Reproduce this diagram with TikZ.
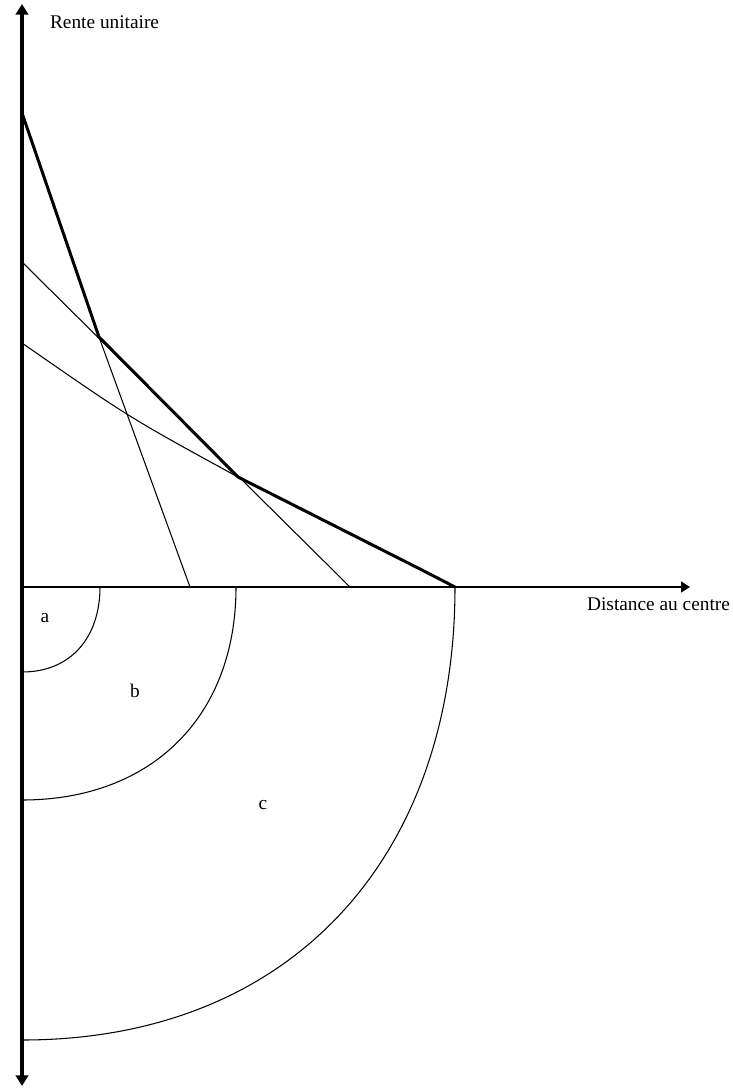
\documentclass[tikz,border=0pt]{standalone}
\usepackage{fontspec}
\setmainfont{Liberation Serif}
\usetikzlibrary{arrows.meta}

\begin{document}
\begin{tikzpicture}[
    x=0.02cm, y=-0.02cm,
    vaxis/.style={line width=2.4pt, black, {Triangle[length=6pt,width=7pt]}-{Triangle[length=6pt,width=7pt]}},
    haxis/.style={line width=1.1pt, black, -{Triangle[length=5pt,width=6pt]}},
    bidline/.style={line width=0.6pt, black},
    envelope/.style={line width=1.7pt, black, line join=round},
    zone/.style={line width=0.6pt, black, out=-90, in=0, looseness=1.1},
    labelstyle/.style={font=\fontsize{11}{13}\selectfont, inner sep=1pt}
]
\useasboundingbox (0,0) rectangle (733,1090);

% === Axes ===
\coordinate (o) at (22,587);
\coordinate (ytop) at (22,4);
\coordinate (ybot) at (22,1086);
\coordinate (xend) at (690,587);
\draw[vaxis] (ybot) -- (ytop);
\draw[haxis] (o) -- (xend);

\node[labelstyle, anchor=west] (rente) at (48,22) {Rente unitaire};
\node[labelstyle, anchor=east] (dist) at (732,604) {Distance au centre};

% === Bid rent lines ===
\coordinate (a0) at (22,113);
\coordinate (a1) at (190,587);
\coordinate (b0) at (22,262);
\coordinate (b1) at (350,587);
\coordinate (c0) at (22,343);
\coordinate (c1) at (455,587);
\coordinate (ab) at (99,337);
\coordinate (bc) at (238,477);

\draw[bidline] (a0) -- (ab) -- (a1);
\draw[bidline] (b0) -- (b1);
\draw[bidline] (c0) .. controls (130,418) .. (bc) -- (c1);

% upper envelope
\draw[envelope] (a0) -- (ab) -- (bc) -- (420,569) -- (c1);

% === Zones ===
\coordinate (ra) at (100,587);
\coordinate (rb) at (236,587);
\coordinate (rc) at (455,587);
\coordinate (da) at (22,672);
\coordinate (db) at (22,800);
\coordinate (dc) at (22,1040);

\draw[zone] (ra) to (da);
\draw[zone] (rb) to (db);
\draw[zone] (rc) to (dc);

\node[labelstyle] (za) at (45,618) {a};
\node[labelstyle] (zb) at (135,691) {b};
\node[labelstyle] (zc) at (263,805) {c};

\end{tikzpicture}
\end{document}
